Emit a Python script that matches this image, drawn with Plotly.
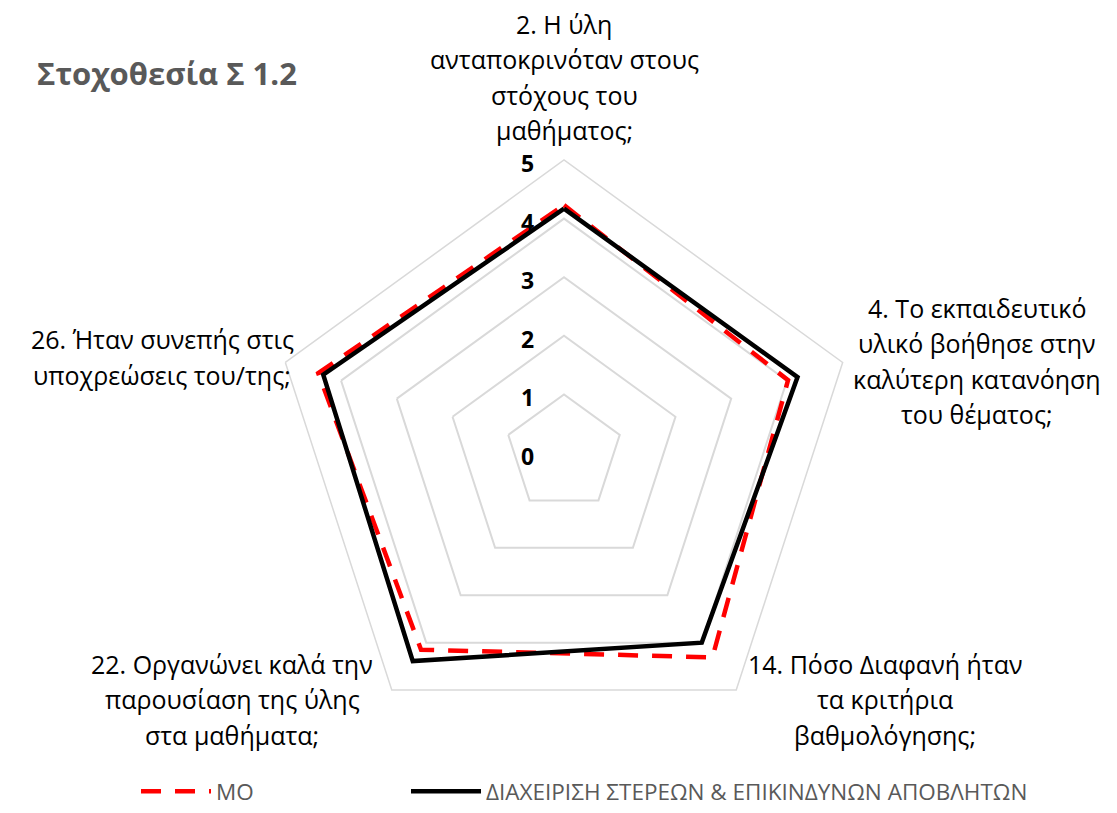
import plotly.graph_objects as go

categories = [
    "2. Η ύλη<br>ανταποκρινόταν στους<br>στόχους του<br>μαθήματος;",
    "4. Το εκπαιδευτικό<br>υλικό βοήθησε στην<br>καλύτερη κατανόηση<br>του θέματος;",
    "14. Πόσο Διαφανή ήταν<br>τα κριτήρια<br>βαθμολόγησης;",
    "22. Οργανώνει καλά την<br>παρουσίαση της ύλης<br>στα μαθήματα;",
    "26. Ήταν συνεπής στις<br>υποχρεώσεις του/της;",
]
mo_values = [4.23, 4.02, 4.31, 4.15, 4.41]
dia_values = [4.17, 4.19, 4.0, 4.39, 4.32]
series_names = ["ΜΟ", "ΔΙΑΧΕΙΡΙΣΗ ΣΤΕΡΕΩΝ & ΕΠΙΚΙΝΔΥΝΩΝ ΑΠΟΒΛΗΤΩΝ"]
radial_ticks = [0, 1, 2, 3, 4, 5]
title_text = "Στοχοθεσία Σ 1.2"

# page has an 8px body margin, so the figure is sized to fit the remaining window
W, H = 1109, 805
FONT = "Open Sans"

theta_keys = [c.split("<br>")[0] for c in categories]

fig = go.Figure()
fig.add_trace(go.Scatterpolar(
    r=mo_values + mo_values[:1], theta=theta_keys + theta_keys[:1],
    mode="lines", name=series_names[0], legend="legend",
    line=dict(color="#FF0000", width=4.5, dash="20px,14px"),
))
fig.add_trace(go.Scatterpolar(
    r=dia_values + dia_values[:1], theta=theta_keys + theta_keys[:1],
    mode="lines", name=series_names[1], legend="legend2",
    line=dict(color="#000000", width=4.5),
))

# polar placement in figure pixels (center, outer radius)
cx, cy, R = 556, 445, 293
rmax = 5
fig.update_layout(
    width=W, height=H,
    margin=dict(l=0, r=0, t=0, b=0),
    paper_bgcolor="white", plot_bgcolor="white",
    showlegend=True,
    polar=dict(
        domain=dict(x=[(cx - R) / W, (cx + R) / W], y=[(H - (cy + R)) / H, (H - (cy - R)) / H]),
        bgcolor="white",
        gridshape="linear",
        angularaxis=dict(
            direction="clockwise", rotation=90,
            showgrid=False, showticklabels=False, ticks="",
            showline=True, linecolor="#d9d9d9", linewidth=1.5,
        ),
        radialaxis=dict(
            range=[0, rmax], tickvals=radial_ticks,
            angle=90, showticklabels=False,
            showline=False, ticks="",
            gridcolor="#d9d9d9", gridwidth=1.5,
        ),
    ),
    legend=dict(
        orientation="h", x=128 / W, xanchor="left", y=0, yanchor="bottom",
        font=dict(family=FONT, size=22.5, color="#595959"),
        itemwidth=70, bgcolor="rgba(0,0,0,0)",
    ),
    legend2=dict(
        orientation="h", x=398 / W, xanchor="left", y=0, yanchor="bottom",
        font=dict(family=FONT, size=22.5, color="#595959"),
        itemwidth=70, bgcolor="rgba(0,0,0,0)",
    ),
)

# category labels (centered, one annotation per line for Excel-like spacing)
label_centers = [(556, 69), (969, 353), (877, 691), (224, 691), (154, 349)]
line_gap = 35.5
annotations = []
for label, (lx, ly) in zip(categories, label_centers):
    lines = label.split("<br>")
    n = len(lines)
    for i, ln in enumerate(lines):
        yy = ly + (i - (n - 1) / 2) * line_gap
        annotations.append(dict(
            text=ln, x=lx / W, y=1 - yy / H, xref="paper", yref="paper",
            xanchor="center", yanchor="middle", showarrow=False, borderpad=0,
            font=dict(family=FONT, size=25, color="#000000"),
        ))

# radial tick labels, placed at each tick level left of the vertical axis
unit = R / rmax
for t in radial_ticks:
    annotations.append(dict(
        text="<b>%d</b>" % t, x=519 / W, y=1 - (cy - t * unit + 3) / H, xref="paper", yref="paper",
        xanchor="center", yanchor="middle", showarrow=False, borderpad=0,
        font=dict(family=FONT, size=23, color="#000000"),
    ))

annotations.append(dict(
    text="<b>" + title_text + "</b>", x=27 / W, y=1 - 65 / H, xref="paper", yref="paper",
    xanchor="left", yanchor="middle", showarrow=False,
    font=dict(family=FONT, size=31, color="#595959"),
))
fig.update_layout(annotations=annotations)

fig.write_html("out.html")
